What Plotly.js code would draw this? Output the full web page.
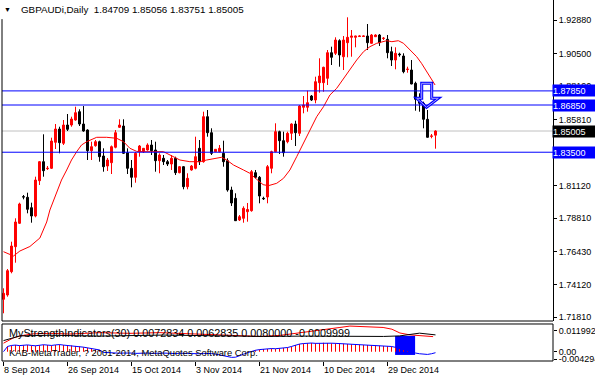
<!DOCTYPE html>
<html><head><meta charset="utf-8">
<script src="https://cdn.plot.ly/plotly-3.0.1.min.js"></script>
<style>html,body{margin:0;padding:0;background:#fff}#chart{width:595px;height:380px}</style>
</head><body><div id="chart"></div>
<script>
// ---------- data ----------
const symbol = "GBPAUDi";
const period = "Daily";
const opens = [1.73066,1.73371,1.75024,1.76797,1.78457,1.80345,1.80302,1.79564,1.78975,1.81480,
1.82828,1.82331,1.82359,1.84204,1.85147,1.84133,1.85431,1.85431,1.85786,1.86375,
1.85502,1.85076,1.83608,1.83963,1.84246,1.83232,1.82522,1.82757,1.83849,1.85268,
1.85360,1.83466,1.82359,1.81721,1.83537,1.83537,1.83658,1.84012,1.83658,1.82898,
1.83069,1.82828,1.82664,1.83069,1.82047,1.82473,1.81054,1.82239,1.82359,1.83778,
1.82828,1.86020,1.84885,1.83537,1.83537,1.83423,1.82898,1.80820,1.80231,1.78692,
1.78812,1.79280,1.79351,1.82047,1.81721,1.80231,1.80323,1.82359,1.83537,1.84956,
1.84317,1.84246,1.84842,1.85502,1.84842,1.86687,1.86687,1.87488,1.87205,1.88432,
1.88432,1.88744,1.90560,1.90518,1.91412,1.90276,1.91270,1.91653,1.91653,1.91709,
1.91709,1.91745,1.91227,1.91695,1.91816,1.91568,1.91511,1.90631,1.90042,1.90468,
1.90326,1.89368,1.89333,1.88389,1.87325,1.86971,1.85835,1.84629,1.84709];
const highs = [1.73846,1.75215,1.77152,1.78812,1.79919,1.80465,1.80628,1.79919,1.81763,1.82877,
1.84771,1.82522,1.84530,1.85502,1.85310,1.85786,1.86211,1.86020,1.86729,1.86545,
1.86779,1.85126,1.84246,1.84367,1.84317,1.83778,1.83090,1.83977,1.85076,1.85835,
1.85835,1.83778,1.82948,1.83516,1.84012,1.83799,1.84133,1.84367,1.84246,1.83423,
1.83303,1.82948,1.83303,1.83182,1.82522,1.82522,1.82005,1.82593,1.84601,1.84367,
1.86375,1.86495,1.85197,1.83728,1.84012,1.84317,1.83069,1.81054,1.80586,1.79046,
1.79663,1.79898,1.82239,1.82239,1.81813,1.80345,1.82593,1.83608,1.85552,1.85027,
1.84956,1.84956,1.85552,1.85736,1.86850,1.87488,1.87864,1.87559,1.88858,1.90163,
1.89567,1.90752,1.90986,1.91653,1.91511,1.91745,1.93072,1.92171,1.91760,1.91795,
1.91780,1.92596,1.91887,1.91866,1.91887,1.91674,1.91816,1.90986,1.90943,1.90560,
1.90518,1.89567,1.90042,1.88503,1.87680,1.87084,1.86495,1.84793,1.85056];
const lows = [1.72073,1.73250,1.74910,1.75662,1.78408,1.80160,1.79167,1.78500,1.78883,1.81175,
1.81763,1.82239,1.82310,1.83728,1.83423,1.84012,1.85005,1.85310,1.85736,1.85360,
1.84956,1.82948,1.82948,1.83892,1.82828,1.82118,1.82168,1.81955,1.83778,1.85218,
1.83374,1.81955,1.81011,1.81338,1.83182,1.83445,1.83608,1.83303,1.82118,1.82005,
1.82593,1.82522,1.82239,1.81884,1.82005,1.80869,1.80869,1.82189,1.82288,1.82593,
1.82757,1.84601,1.83303,1.83516,1.83494,1.82473,1.80699,1.79685,1.78620,1.78620,
1.78500,1.78571,1.79280,1.81650,1.79876,1.80110,1.79876,1.82005,1.83500,1.83374,
1.83182,1.84133,1.84367,1.83941,1.84651,1.86261,1.86375,1.87134,1.86971,1.87723,
1.87793,1.88269,1.89688,1.90397,1.89567,1.89333,1.90234,1.90276,1.90943,1.91695,
1.91674,1.90752,1.91200,1.91674,1.91036,1.91461,1.90163,1.89617,1.89383,1.90276,
1.89099,1.89141,1.88320,1.86446,1.86375,1.85197,1.84540,1.84488,1.83751];
const closes = [1.73492,1.75095,1.76847,1.78550,1.79827,1.80323,1.79451,1.78975,1.81529,1.82828,
1.82189,1.82359,1.84296,1.85147,1.84175,1.85431,1.85126,1.85857,1.86304,1.85502,
1.85005,1.83608,1.83892,1.84246,1.83182,1.82473,1.82948,1.83892,1.84885,1.85431,
1.83423,1.82359,1.81721,1.83423,1.83941,1.83778,1.84012,1.83608,1.82898,1.83303,
1.82828,1.82664,1.83069,1.82047,1.82473,1.81054,1.81650,1.82522,1.83182,1.82828,
1.86020,1.84885,1.83423,1.83707,1.83778,1.82828,1.80820,1.79898,1.78642,1.78926,
1.79522,1.79437,1.82118,1.81721,1.80394,1.80203,1.82473,1.83537,1.84956,1.84317,
1.83466,1.84842,1.85502,1.84885,1.86779,1.86850,1.87013,1.87205,1.88503,1.88907,
1.89524,1.90560,1.90234,1.91461,1.90397,1.91461,1.91653,1.91745,1.91745,1.91745,
1.91745,1.91270,1.91816,1.91816,1.91270,1.91589,1.90560,1.90042,1.90518,1.90418,
1.89212,1.89390,1.88340,1.87254,1.86971,1.85835,1.84558,1.84651,1.85005];

// moving average (red line), read at bar positions
const maBar = [0,2.5,4.1,6.6,9.1,10.8,11.6,13.3,14.5,15.8,17.0,18.3,19.5,20.8,23.3,25.8,28.3,30.0,31.6,33.3,35.0,40.0,42.4,44.1,46.6,49.1,50.8,53.3,54.5,55.8,57.5,60.0,61.6,63.3,64.9,66.2,68.3,70.0,71.6,73.3,75.0,76.6,78.3,80.0,81.6,83.3,85.0,86.6,88.3,90.0,91.6,93.3,95.8,97.1,98.7,100.0,101.6,103.3,104.5,105.8,107.0,107.9];
const maVal = [1.76443,1.76138,1.76492,1.76812,1.77415,1.78550,1.79401,1.80678,1.81529,1.82239,1.82948,1.83537,1.84012,1.84246,1.84558,1.84558,1.84488,1.84246,1.83778,1.83560,1.83537,1.83537,1.83182,1.82948,1.82828,1.82828,1.82948,1.83069,1.83140,1.82948,1.82593,1.82239,1.82004,1.81579,1.81200,1.81125,1.81295,1.81650,1.82239,1.83182,1.84133,1.85076,1.86020,1.86729,1.87559,1.88035,1.88744,1.89333,1.90042,1.90631,1.90986,1.91227,1.91412,1.91341,1.91412,1.91227,1.90752,1.90276,1.89808,1.89212,1.88673,1.88269];

// horizontal line objects
const hLevels = [1.87850, 1.86850, 1.83500];
const priceTicks = [1.92880,1.90500,1.88190,1.85810,1.83500,1.81120,1.78810,1.76430,1.74120,1.71810];
const dateTickBars = [0,16,32,48,64,80,96];
const dateTickLabels = ["8 Sep 2014","26 Sep 2014","15 Oct 2014","3 Nov 2014","21 Nov 2014","10 Dec 2014","29 Dec 2014"];

// indicator window
const indName = "MyStrengthIndicators(30)";
const indValues = ["0.0072834","0.0062835","0.0080000","-0.0009999"];
const indTicks = [0.011992, 0, -0.004294];
const indTickText = ["0.011992","0.00","-0.004294"];
const indBlue = [0.0000,0.0030,
0.0036,0.0038,0.0035,0.0037,0.0039,0.0036,0.0034,0.0037,0.0040,0.0038,0.0036,0.0039,0.0041,0.0038,0.0036,0.0035,0.0033,0.0030,
0.0026,0.0022,0.0018,0.0014,0.0010,
-0.0004,-0.0006,-0.0008,-0.0007,-0.0009,-0.0008,-0.0006,-0.0008,-0.0010,-0.0009,-0.0007,-0.0008,-0.0010,-0.0011,-0.0009,-0.0008,-0.0010,-0.0012,-0.0011,-0.0009,-0.0008,-0.0010,-0.0011,-0.0013,-0.0012,-0.0010,-0.0009,-0.0011,-0.0014,-0.0018,-0.0024,-0.0030,-0.0033,
-0.0032,-0.0025,-0.0015,-0.0006,0.0002,0.0008,
0.0012,0.0015,0.0016,0.0018,0.0017,0.0019,0.0021,0.0024,0.0030,0.0038,0.0044,
0.0047,0.0049,0.0050,0.0048,0.0049,0.0051,0.0050,0.0049,0.0048,0.0047,0.0046,
0.0045,0.0043,0.0041,0.0040,0.0039,0.0038,0.0036,0.0035,0.0034,0.0033,0.0032,0.0030,
0.0025,0.0018,0.0010,0.0004,0.0000,
-0.0008,-0.0012,-0.0015,-0.0016,-0.0012,-0.0006];
const indRedBar = [0,2.4,4.1,7.4,11.6,16.6,24.1,31.6,39.1,46.6,54.1,59.1,64.1,69.1,74.1,79.1,84.1,86.6,90.4,94.9,97.1,99.1,101.6,104.1,107.4];
const indRedVal = [0.0049,0.0079,0.0091,0.0103,0.0106,0.0102,0.0110,0.0106,0.0110,0.0104,0.0100,0.0092,0.0088,0.0094,0.0108,0.0125,0.0140,0.0148,0.0143,0.0140,0.0130,0.0108,0.0097,0.0092,0.0087];
const indBlackBar = [0,4.1,11.6,24,40,55,65,75,85,95,99,104,108];
const indBlackVal = [0.0064,0.0091,0.0095,0.0090,0.0096,0.0092,0.0088,0.0090,0.0087,0.0088,0.0091,0.0107,0.0097];
const copyrightText = "KAB-MetaTrader, ? 2001-2014, MetaQuotes Software Corp.";

// drawn objects (arrow in main window, rectangle in indicator window)
const arrowBars   = [104.55,107.05,107.05,108.7,105.75,103.3,104.55];
const arrowPrices = [1.88389,1.88389,1.87325,1.87325,1.86687,1.87325,1.87325];
const rectBars = [97.9, 102.9];
const rectVals = [-0.0019, 0.0091];

// ---------- chart ----------
const bars = closes.map((_, i) => i);
const last = closes.length - 1;
const F = "'Liberation Sans', Arial, sans-serif";
const mainDom = [0.1108, 1];
const indDom = [0, 0.1025];

const traces = [
  {type:'candlestick', x:bars, open:opens, high:highs, low:lows, close:closes,
   xaxis:'x', yaxis:'y', whiskerwidth:0,
   increasing:{line:{color:'#ff0000', width:1}, fillcolor:'#ff0000'},
   decreasing:{line:{color:'#000000', width:1}, fillcolor:'#000000'},
   hoverinfo:'skip', showlegend:false},
  {type:'scatter', mode:'lines', x:maBar, y:maVal, xaxis:'x', yaxis:'y',
   line:{color:'#ff0000', width:1}, hoverinfo:'skip', showlegend:false},
  {type:'bar', x:bars, y:indBlue.map(v => v > 0 ? v : null), xaxis:'x', yaxis:'y2', width:0.25,
   marker:{color:'#ff0000', line:{width:0}}, hoverinfo:'skip', showlegend:false},
  {type:'scatter', mode:'lines', x:bars, y:indBlue, xaxis:'x', yaxis:'y2',
   line:{color:'#0000ff', width:1}, hoverinfo:'skip', showlegend:false},
  {type:'scatter', mode:'lines', x:indRedBar, y:indRedVal, xaxis:'x', yaxis:'y2',
   line:{color:'#ff0000', width:1}, hoverinfo:'skip', showlegend:false},
  {type:'scatter', mode:'lines', x:indBlackBar, y:indBlackVal, xaxis:'x', yaxis:'y2',
   line:{color:'#000000', width:1}, hoverinfo:'skip', showlegend:false}
];

const shapes = [];
hLevels.forEach(l => shapes.push({type:'line', xref:'paper', x0:0, x1:1, yref:'y', y0:l, y1:l, line:{color:'#0000ff', width:1}}));
shapes.push({type:'line', xref:'paper', x0:0, x1:1, yref:'y', y0:closes[last], y1:closes[last], line:{color:'#c0c0c0', width:1}, layer:'below'});
// frames
shapes.push({type:'line', xref:'paper', yref:'paper', x0:0, x1:0, y0:mainDom[0], y1:0.947, line:{color:'#000', width:1}});
shapes.push({type:'line', xref:'paper', yref:'paper', x0:0, x1:1, y0:mainDom[0], y1:mainDom[0], line:{color:'#000', width:1}});
shapes.push({type:'rect', xref:'paper', yref:'paper', x0:0, x1:1, y0:indDom[0], y1:indDom[1], line:{color:'#000', width:1}});
// arrow object
const arrowPath = arrowBars.map((b, i) => (i ? 'L' : 'M') + b + ',' + arrowPrices[i]).join(' ') + ' Z';
shapes.push({type:'path', xref:'x', yref:'y', path:arrowPath, line:{color:'#0000ff', width:3}, fillcolor:'rgba(0,0,0,0)'});
shapes.push({type:'path', xref:'x', yref:'y', path:arrowPath, line:{color:'#a9a0ff', width:1}, fillcolor:'rgba(0,0,0,0)'});
// rectangle object in indicator window
shapes.push({type:'rect', xref:'x', yref:'y2', x0:rectBars[0], x1:rectBars[1], y0:rectVals[0], y1:rectVals[1], fillcolor:'#0000ff', line:{width:0}, layer:'below'});

const annotations = [];
hLevels.forEach(l => annotations.push({xref:'paper', x:1, xanchor:'left', xshift:-1, yref:'y', y:l, yanchor:'middle',
  text:l.toFixed(5), showarrow:false, bgcolor:'#0000ff', font:{family:F, size:9, color:'#ffffff'}, borderpad:0, width:42, height:11, align:'left'}));
annotations.push({xref:'paper', x:1, xanchor:'left', xshift:-1, yref:'y', y:closes[last], yanchor:'middle',
  text:closes[last].toFixed(5), showarrow:false, bgcolor:'#000000', font:{family:F, size:9, color:'#ffffff'}, borderpad:0, width:42, height:11, align:'left'});
annotations.push({xref:'paper', x:0.01, xanchor:'center', yref:'paper', y:0.975, yanchor:'middle',
  text:'▼', showarrow:false, font:{family:F, size:7, color:'#000'}});
annotations.push({xref:'paper', x:0.0309, xanchor:'left', yref:'paper', y:0.975, yanchor:'middle',
  text:`${symbol},${period}  ${opens[last].toFixed(5)} ${highs[last].toFixed(5)} ${lows[last].toFixed(5)} ${closes[last].toFixed(5)}`,
  showarrow:false, font:{family:F, size:9.8, color:'#000'}});
annotations.push({xref:'paper', x:0.009, xanchor:'left', yref:'paper', y:0.0776, yanchor:'middle',
  text:indName + ' ' + indValues.join(' '), showarrow:false, font:{family:F, size:10.8, color:'#000'}});
annotations.push({xref:'paper', x:0.009, xanchor:'left', yref:'paper', y:0.0222, yanchor:'middle',
  text:copyrightText, showarrow:false, font:{family:F, size:9.4, color:'#000'}});

const layout = {
  width:595, height:380, margin:{l:2, r:42, t:0, b:19},
  paper_bgcolor:'#ffffff', plot_bgcolor:'#ffffff', showlegend:false, dragmode:false,
  barmode:'overlay',
  xaxis:{anchor:'y2', range:[-0.375, 137.375], showgrid:false, zeroline:false,
    tickvals:dateTickBars, ticktext:dateTickLabels, ticks:'outside', ticklen:4, tickcolor:'#000',
    ticklabelposition:'outside right', tickfont:{family:F, size:9, color:'#000'},
    showline:false, rangeslider:{visible:false}, fixedrange:true},
  yaxis:{domain:mainDom, anchor:'x', side:'right', range:[1.71526, 1.94299], showgrid:false, zeroline:false,
    tickvals:priceTicks, ticktext:priceTicks.map(v => v.toFixed(5)), ticks:'outside', ticklen:3, tickcolor:'#000',
    tickfont:{family:F, size:9, color:'#000'}, showline:true, linecolor:'#000', linewidth:1, fixedrange:true},
  yaxis2:{domain:indDom, anchor:'x', side:'right', range:[-0.0054, 0.0160], showgrid:false, zeroline:false,
    tickvals:indTicks, ticktext:indTickText, ticks:'outside', ticklen:3, tickcolor:'#000',
    tickfont:{family:F, size:9, color:'#000'}, showline:false, fixedrange:true},
  shapes:shapes, annotations:annotations
};

Plotly.newPlot('chart', traces, layout, {staticPlot:true, displayModeBar:false});
</script></body></html>
